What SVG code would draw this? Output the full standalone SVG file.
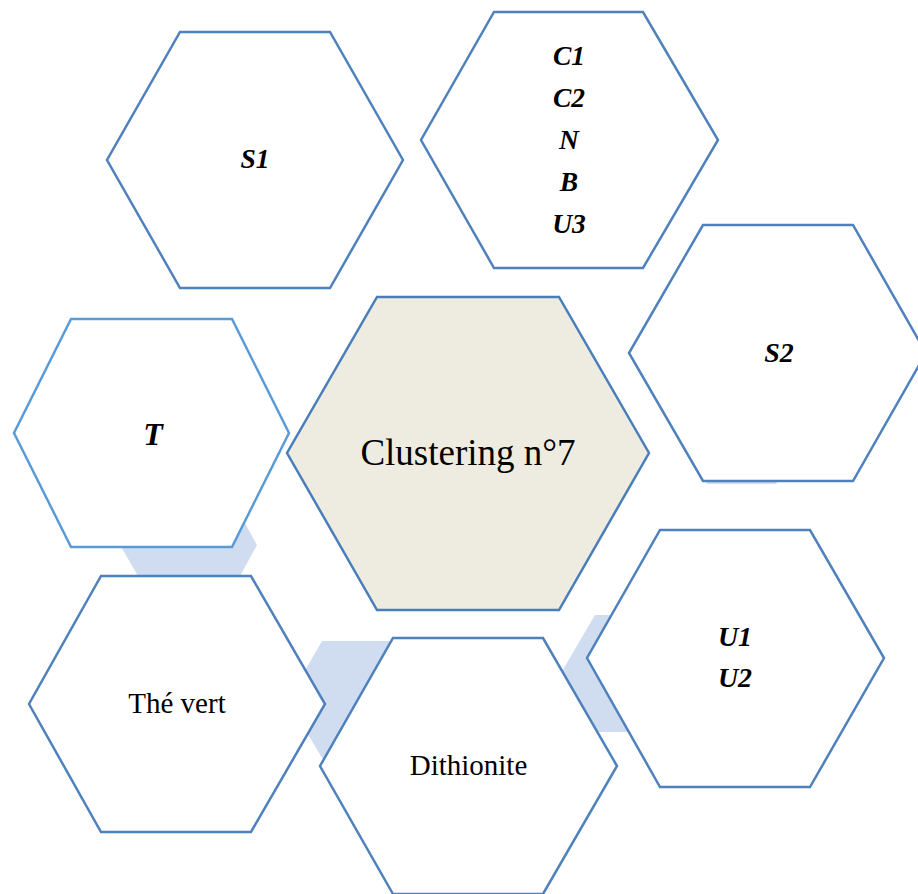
<svg xmlns="http://www.w3.org/2000/svg" width="918" height="894" viewBox="0 0 918 894">
<style>
.link{fill:#D0DCEF;stroke:none}
.hex{fill:#FFFFFF;stroke:#4F81BD;stroke-width:2.5;stroke-linejoin:miter}
.hexl{fill:#FFFFFF;stroke:#5B9BD5;stroke-width:2.5}
.hexc{fill:#EEECE1;stroke:#4A7EBB;stroke-width:2.5}
text{font-family:'Liberation Serif','Times New Roman','DejaVu Serif',serif;fill:#000;text-anchor:middle}
.bi{font-weight:bold;font-style:italic}
</style>
<rect x="0" y="0" width="918" height="894" fill="#FFFFFF"/>
<g id="connectors">
<polygon class="link" points="138,514 240,514 257,545 240,576 138,576 120,545"/>
<polygon class="link" points="322,641 400,641 434,700 400,758 322,758 288,700"/>
<polygon class="link" points="595,615 680,615 714,673 680,732 595,732 561,673"/>
<polygon class="link" points="707,484 776,484 800,442 776,400 707,400 683,442"/>
</g>
<g id="node-center">
<polygon class="hexc" points="377,297 559,297 649,453 559,610 377,610 287,453"/>
<text x="468" y="465" font-size="37">Clustering n°7</text>
</g>
<g id="node-S1">
<polygon class="hex" points="180,32 330,32 403,160 330,288 180,288 107,160"/>
<text class="bi" x="255" y="168" font-size="27.5">S1</text>
</g>
<g id="node-C1">
<polygon class="hex" points="494,12 643,12 718,140 643,268 494,268 421,140"/>
<text class="bi" font-size="27.5"><tspan x="569" y="65">C1</tspan><tspan x="569" y="107">C2</tspan><tspan x="569" y="149">N</tspan><tspan x="569" y="191">B</tspan><tspan x="569" y="233">U3</tspan></text>
</g>
<g id="node-S2">
<polygon class="hex" points="703,225 853,225 926,353 853,481 703,481 629,353"/>
<text class="bi" x="779" y="362" font-size="28">S2</text>
</g>
<g id="node-T">
<polygon class="hexl" points="71,319 232,319 289,433 232,547 71,547 14,433"/>
<text class="bi" x="153" y="445" font-size="32">T</text>
</g>
<g id="node-U">
<polygon class="hex" points="660,530 810,530 884,658 810,787 660,787 587,658"/>
<text class="bi" font-size="28"><tspan x="735" y="646">U1</tspan><tspan x="735" y="687">U2</tspan></text>
</g>
<g id="node-thevert">
<polygon class="hex" points="101,576 251,576 325,704 251,832 101,832 29,704"/>
<text x="177" y="713" font-size="29">Thé vert</text>
</g>
<g id="node-dithionite">
<polygon class="hex" points="393,638 543,638 617,766 543,894 393,894 320,766"/>
<text x="468.5" y="775" font-size="29">Dithionite</text>
</g>
</svg>
